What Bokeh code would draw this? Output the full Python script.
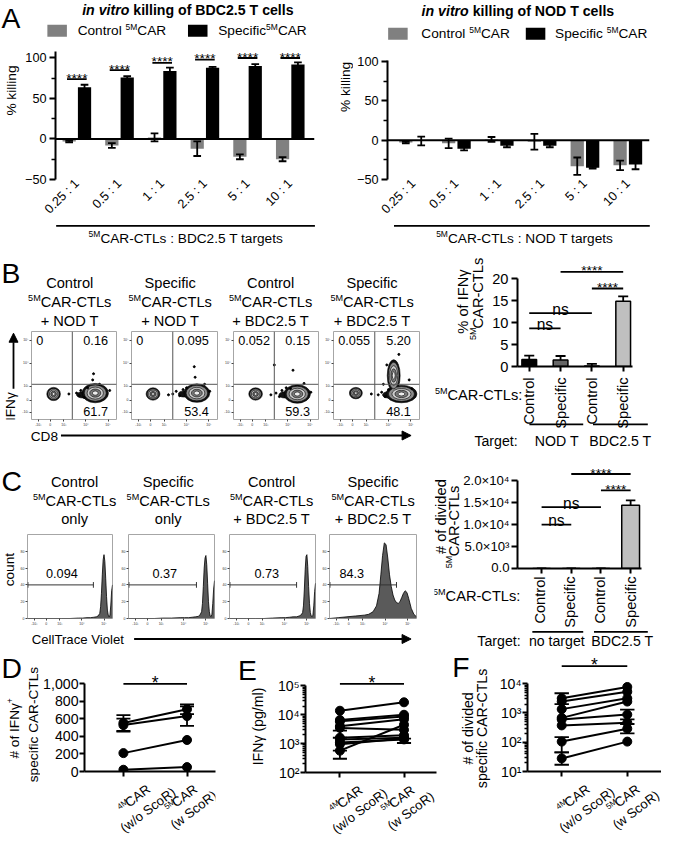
import math
from bokeh.plotting import figure
from bokeh.layouts import row, column
from bokeh.models import Range1d, FixedTicker, Label, Arrow, NormalHead, Span
from bokeh.embed import file_html
from bokeh.resources import INLINE
from bokeh.core.properties import value

S = 0.976
FONT = "Liberation Sans"
SUP = 0.62
LIFT = 0.30
GREY = "#808080"

# ---------------- data: panel A ----------------
ratios = ["0.25 : 1", "0.5 : 1", "1 : 1", "2.5 : 1", "5 : 1", "10 : 1"]
a_yticks = [-50, 0, 50, 100]
a_yminor = [-25, 25, 75]
bdc_ctrl = [-3, -8, 2, -12, -22, -25]
bdc_ctrl_err = [1, 3, 5, 9, 3, 2.5]
bdc_spec = [64, 76, 84, 88, 90, 92]
bdc_spec_err = [3, 1.5, 4, 1, 2.5, 2.5]
bdc_sig = [74, 85, 94, 98, 100, 100]
nod_ctrl = [-3, -4, 1, -2, -33, -32]
nod_ctrl_err = [1, 6, 3, 10, 11, 6]
nod_spec = [-1, -11, -7, -7, -35, -31]
nod_spec_err = [5.5, 2, 2, 2, 1, 6]

# ---------------- data: panel B ----------------
flowB_titles = [("Control", "+ NOD T"), ("Specific", "+ NOD T"),
                ("Control", "+ BDC2.5 T"), ("Specific", "+ BDC2.5 T")]
flowB_quadrants = [("0", "0.16", "61.7"), ("0", "0.095", "53.4"),
                   ("0.052", "0.15", "59.3"), ("0.055", "5.20", "48.1")]
flowB_pops = [
    [(26, 29, 16, 15), (75, 30, 31, 22)],
    [(25, 29, 16, 14), (76, 30, 30, 21)],
    [(26, 29, 16, 14), (75, 29, 31, 21)],
    [(26, 30, 15, 13), (79, 29, 36, 20), (70, 50, 15, 36)],
]
flowB_tails = [(60, 28, 14, 7), (61, 29, 13, 7), (60, 28, 13, 7), (63, 28, 12, 7)]
flowB_dots_x = [[53, 56, 58, 62, 66, 72, 92, 73, 44, 80],
                [48, 52, 56, 60, 64, 73, 74, 91, 43, 85],
                [50, 54, 57, 62, 70, 48, 91, 44, 83, 67],
                [52, 56, 60, 64, 91, 76, 62, 44, 88, 58]]
flowB_dots_y = [[30, 27, 33, 25, 36, 45, 33, 52, 29, 40],
                [29, 32, 27, 34, 36, 60, 48, 32, 28, 40],
                [30, 26, 33, 36, 56, 62, 31, 28, 41, 35],
                [28, 31, 26, 34, 35, 74, 62, 29, 45, 40]]
flow_ticks = [8, 22, 38, 64, 90]
flow_tick_labels = ["-10³", "0", "10³", "10⁴", "10⁵"]
flow_gate_x = 48
flow_gate_y = 40
contour_scale = [1.0, 0.84, 0.62, 0.42, 0.22]
contour_fill = ["#111111", "#8c8c8c", "#cccccc", "#7a7a7a", "#eeeeee"]

car_groups = ["Control", "Specific", "Control", "Specific"]
ifng_pct = [1.6, 1.5, 0.1, 14.9]
ifng_pct_hi = [2.5, 2.4, 0.6, 16.0]
ifng_colors = ["#000000", "#666666", "#999999", "#bfbfbf"]
ifng_yticks = [0, 5, 10, 15, 20]
ifng_ylabels = ["0", "5", "10", "15", "20"]
ifng_sig_x0 = [0, 0, 2, 1]
ifng_sig_x1 = [1, 2, 3, 3]
ifng_sig_y = [8.7, 12.2, 17.8, 21.6]
ifng_sig_t = ["ns", "ns", "****", "****"]

# ---------------- data: panel C ----------------
histC_titles = [("Control", "only"), ("Specific", "only"),
                ("Control", "+ BDC2.5 T"), ("Specific", "+ BDC2.5 T")]
histC_pct = ["0.094", "0.37", "0.73", "84.3"]
hist_x = [0, 10, 20, 30, 40, 50, 60, 65, 70, 74, 78, 81, 83, 85, 86, 87, 88, 89,
          90, 91, 92, 93, 94, 95, 96, 97, 98, 99, 100]
hist1_y = [0, 0, 0, 0, 0, 0, 0.5, 0.5, 1, 1, 1.5, 2, 3, 6, 14, 30, 52, 70,
           76, 68, 48, 26, 10, 4, 2, 4, 16, 33, 40]
hist2_y = [0, 0, 0, 0, 0.5, 0.5, 1, 1, 1, 1.5, 2, 2.5, 4, 8, 18, 38, 60, 72,
           75, 64, 42, 20, 8, 3, 2, 5, 18, 35, 45]
hist3_y = [0, 0, 0, 0, 0, 0.5, 1, 1, 1.5, 2, 2, 3, 4, 7, 15, 34, 58, 74,
           76, 62, 38, 18, 7, 3, 2, 4, 15, 32, 42]
hist4_x = [0, 10, 20, 30, 40, 45, 50, 54, 57, 59, 61, 63, 65, 67, 69, 71, 73, 75,
           77, 79, 81, 83, 85, 87, 89, 91, 94, 97, 100]
hist4_y = [0, 1, 2, 3, 4, 5, 8, 15, 30, 52, 75, 90, 88, 72, 52, 38, 28, 22,
           19, 18, 20, 25, 30, 33, 31, 24, 12, 5, 2]
hist_gate_end = [77.5, 79, 78, 77]
hist_gate_y = 40
hist_yticks = [0, 20, 40, 60, 80]
hist_ylabels = ["0", "20", "40", "60", "80"]

div_n = [0, 0, 0, 14444]
div_hi = [0, 0, 0, 15555]
div_colors = ["#000000", "#666666", "#999999", "#bfbfbf"]
div_yticks = [0, 5000, 10000, 15000, 20000]
div_ylabels = ["0.0", "5.0×10³", "1.0×10⁴", "1.5×10⁴", "2.0×10⁴"]
div_sig_x0 = [0, 0, 2, 1]
div_sig_x1 = [1, 2, 3, 3]
div_sig_y = [10000, 14000, 17800, 21560]
div_sig_t = ["ns", "ns", "****", "****"]

# ---------------- data: panels D-F ----------------
d_4m = [555, 530, 210, 20]
d_5m = [711, 633, 360, 50]
d_err_x = [0, 0, 1, 1]
d_err_lo = [465, 455, 655, 522]
d_err_hi = [645, 605, 767, 744]
d_yticks = [0, 200, 400, 600, 800, 1000]
d_ylabels = ["0", "200", "400", "600", "800", "1,000"]

e_4m = [13800, 6600, 5900, 4000, 3500, 1600, 1400, 1100, 960, 570]
e_5m = [27000, 10000, 8700, 7000, 3000, 1950, 1600, 1400, 1500, 4500]
e_err_x = [0, 0, 1]
e_err_lo = [300, 1600, 1050]
e_err_hi = [570, 2800, 1500]
e_yticks = [100, 1000, 10000, 100000]
e_ylabels = ["10²", "10³", "10⁴", "10⁵"]
e_yminor = [m * 10 ** k for k in (2, 3, 4) for m in range(2, 10)]

f_4m = [3160, 2450, 1350, 680, 600, 375, 105, 28]
f_5m = [7700, 5300, 3160, 2450, 880, 465, 290, 105]
f_err_x = [0, 0, 0, 1, 1]
f_err_lo = [2000, 45, 17, 600, 200]
f_err_hi = [4700, 150, 45, 1300, 420]
f_yticks = [10, 100, 1000, 10000]
f_ylabels = ["10¹", "10²", "10³", "10⁴"]
f_yminor = [m * 10 ** k for k in (1, 2, 3) for m in range(2, 10)]

# ---------------- helpers ----------------
def P(v):
    return int(round(v * S))

_REG = {' ': 278, '#': 556, '%': 889, '(': 333, ')': 333, '*': 389, '+': 584, ',': 278,
        '-': 333, '.': 278, '/': 278, ':': 278, 'A': 667, 'B': 667, 'C': 722, 'D': 722,
        'E': 667, 'F': 611, 'I': 278, 'L': 556, 'M': 833, 'N': 722, 'O': 778, 'R': 722,
        'S': 667, 'T': 611, 'V': 667, 'a': 556, 'b': 556, 'c': 500, 'd': 556, 'e': 556,
        'f': 278, 'g': 556, 'h': 556, 'i': 222, 'k': 500, 'l': 222, 'm': 833, 'n': 556,
        'o': 556, 'p': 556, 'r': 333, 's': 500, 't': 278, 'u': 556, 'v': 500, 'w': 722,
        'y': 500, 'γ': 500, '×': 584}
_BOLD = {' ': 278, '.': 278, 'B': 722, 'C': 722, 'D': 722, 'N': 722, 'O': 778, 'T': 611,
         'c': 556, 'e': 556, 'f': 333, 'g': 611, 'i': 278, 'k': 556, 'l': 278, 'n': 611,
         'o': 611, 'r': 389, 's': 556, 't': 333, 'v': 556}


def tw(s, size, bold=False):
    tab = _BOLD if bold else _REG
    return sum(tab.get(ch, 556) for ch in s) * size / 1000.0


class Fig:
    def __init__(self, canvas, frame, xr, yr, ylog=False, outline=None):
        self.fr = frame
        self.xr = xr
        self.yr = yr
        self.ylog = ylog
        cx0, cy0, cx1, cy1 = canvas
        fx0, fy0, fx1, fy1 = frame
        p = figure(width=P(cx1) - P(cx0), height=P(cy1) - P(cy0),
                   x_range=Range1d(*xr), y_range=Range1d(*yr),
                   y_axis_type=("log" if ylog else "linear"),
                   toolbar_location=None, output_backend="svg",
                   min_border_left=P(fx0) - P(cx0), min_border_right=P(cx1) - P(fx1),
                   min_border_top=P(fy0) - P(cy0), min_border_bottom=P(cy1) - P(fy1))
        p.outline_line_color = outline
        p.grid.visible = False
        p.xaxis.visible = False
        p.yaxis.visible = False
        p.background_fill_color = "white"
        p.border_fill_color = "white"
        self.p = p

    def D(self, rx, ry):
        fx0, fy0, fx1, fy1 = self.fr
        x = self.xr[0] + (rx - fx0) / (fx1 - fx0) * (self.xr[1] - self.xr[0])
        t = (fy1 - ry) / (fy1 - fy0)
        if self.ylog:
            a, b = math.log10(self.yr[0]), math.log10(self.yr[1])
            y = 10 ** (a + t * (b - a))
        else:
            y = self.yr[0] + t * (self.yr[1] - self.yr[0])
        return x, y

    def label(self, rx, ry, text, size, align="center", baseline="middle", angle=0.0,
              style="normal", color="black"):
        x, y = self.D(rx, ry)
        self.p.add_layout(Label(x=x, y=y, text=text, text_font=FONT,
                                text_font_size=f"{size * S:.2f}px", text_align=align,
                                text_baseline=baseline, angle=angle,
                                text_font_style=style, text_color=color))

    def rich(self, rx, ry, parts, size, align="center", angle_deg=0.0):
        a = math.radians(angle_deg)
        ux, uy = math.cos(a), -math.sin(a)
        px, py = -math.sin(a), -math.cos(a)
        ws = []
        for t, k in parts:
            sz = size * SUP if k == "s" else size
            ws.append(tw(t, sz, bold=k in ("b", "bi")))
        tot = sum(ws)
        off = {"left": 0.0, "center": -tot / 2, "right": -tot}[align]
        for (t, k), w in zip(parts, ws):
            sz = size * SUP if k == "s" else size
            lift = size * LIFT if k == "s" else 0.0
            style = {"n": "normal", "s": "normal", "b": "bold", "bi": "bold italic"}[k]
            lead = tw(t[:len(t) - len(t.lstrip())], sz, bold=k in ("b", "bi"))
            o = off + lead
            self.label(rx + ux * o + px * lift, ry + uy * o + py * lift, t.strip(), sz,
                       align="left", angle=a, style=style)
            off += w

    def seg(self, rx0, ry0, rx1, ry1, width=1.8, color="black", head=None):
        x0, y0 = self.D(rx0, ry0)
        x1, y1 = self.D(rx1, ry1)
        self.p.add_layout(Arrow(x_start=x0, y_start=y0, x_end=x1, y_end=y1,
                                line_width=width, line_color=color, end=head))


def TF(canvas):
    """A text/annotation canvas whose frame is the whole figure."""
    return Fig(canvas, canvas, (0, 1), (0, 1))


def head():
    return NormalHead(size=9, fill_color="black", line_color="black", line_width=1)


def style_axis(ax, size, tick_out=6, minor_out=4, width=2.0, standoff=3):
    ax.visible = True
    ax.axis_line_width = width
    ax.axis_line_color = "black"
    ax.major_tick_line_width = width
    ax.major_tick_line_color = "black"
    ax.major_tick_out = int(tick_out)
    ax.major_tick_in = 0
    ax.minor_tick_line_width = 1.5
    ax.minor_tick_line_color = "black"
    ax.minor_tick_out = int(minor_out)
    ax.minor_tick_in = 0
    ax.major_label_text_font = FONT
    ax.major_label_text_font_size = f"{size * S:.2f}px"
    ax.major_label_text_color = "black"
    ax.major_label_standoff = int(standoff)


def blank_labels(ax, ticks):
    ax.major_label_overrides = {t: "" for t in ticks}
    ax.major_label_text_font_size = "1px"
    ax.major_label_standoff = 0


def tiny_axes(p, xt, xl, yt, yl):
    for ax, t, l in ((p.xaxis[0], xt, xl), (p.yaxis[0], yt, yl)):
        ax.visible = True
        ax.ticker = FixedTicker(ticks=t, minor_ticks=[])
        ax.major_label_overrides = dict(zip(t, l))
        ax.axis_line_color = None
        ax.major_tick_line_color = "#444444"
        ax.major_tick_line_width = 1
        ax.major_tick_out = 2
        ax.major_tick_in = 0
        ax.minor_tick_line_color = None
        ax.major_label_text_font = FONT
        ax.major_label_text_font_size = "3.5px"
        ax.major_label_text_color = "#333333"
        ax.major_label_standoff = 1


def errbars(p, x, lo, hi, capw, lw=1.8):
    p.segment(x0=x, y0=lo, x1=x, y1=hi, line_color="black", line_width=lw)
    xl = [v - capw / 2 for v in x]
    xrr = [v + capw / 2 for v in x]
    p.segment(x0=xl, y0=hi, x1=xrr, y1=hi, line_color="black", line_width=lw)
    p.segment(x0=xl, y0=lo, x1=xrr, y1=lo, line_color="black", line_width=lw)


# ---------------- panel builders ----------------
def killing_panel(canvas, frame, xr, yr, ybound, ctrl, ctrl_e, spec, spec_e, sig):
    f = Fig(canvas, frame, xr, yr)
    p = f.p
    ya = p.yaxis[0]
    style_axis(ya, 13)
    ya.ticker = FixedTicker(ticks=a_yticks, minor_ticks=a_yminor)
    ya.bounds = ybound
    xa = p.xaxis[0]
    style_axis(xa, 13, tick_out=0, standoff=2)
    n = len(ratios)
    xa.ticker = FixedTicker(ticks=list(range(n)), minor_ticks=[])
    xa.major_label_overrides = {i: r for i, r in enumerate(ratios)}
    xa.major_label_orientation = math.pi / 4
    xa.axis_line_color = None
    xa.major_tick_line_color = None
    xa.minor_tick_line_color = None
    off, bw = 0.18, 0.31
    xc = [i - off for i in range(n)]
    xs = [i + off for i in range(n)]
    p.vbar(x=xc, bottom=0, top=ctrl, width=bw, fill_color=GREY, line_color=None)
    p.vbar(x=xs, bottom=0, top=spec, width=bw, fill_color="black", line_color=None)
    errbars(p, xc, [v - e for v, e in zip(ctrl, ctrl_e)], [v + e for v, e in zip(ctrl, ctrl_e)], 0.18)
    errbars(p, xs, [v - e for v, e in zip(spec, spec_e)], [v + e for v, e in zip(spec, spec_e)], 0.18)
    p.add_layout(Span(location=0, dimension="width", line_color="black", line_width=2))
    if sig is not None:
        p.segment(x0=[i - 0.23 for i in range(n)], y0=sig, x1=[i + 0.23 for i in range(n)], y1=sig,
                  line_color="black", line_width=1.8)
        ppu = (frame[3] - frame[1]) / (yr[1] - yr[0])
        p.text(x=list(range(n)), y=[s + 1.0 / ppu for s in sig], text=["****"] * n,
               text_font=value(FONT), text_font_size=f"{14 * S:.2f}px", text_align="center",
               text_baseline="alphabetic", text_color="black")
    return f


def flow_panel(canvas, frame, quads, pops, tail, dx, dy):
    f = Fig(canvas, frame, (0, 100), (0, 100), outline="#a6a6a6")
    p = f.p
    tiny_axes(p, flow_ticks, flow_tick_labels, flow_ticks, flow_tick_labels)
    p.add_layout(Span(location=flow_gate_x, dimension="height", line_color="#555555", line_width=1))
    p.add_layout(Span(location=flow_gate_y, dimension="width", line_color="#555555", line_width=1))
    p.ellipse(x=[tail[0]], y=[tail[1]], width=[tail[2]], height=[tail[3]],
              fill_color="#111111", line_color="black", line_width=0.6)
    for sc, col in zip(contour_scale, contour_fill):
        p.ellipse(x=[c[0] for c in pops], y=[c[1] for c in pops],
                  width=[c[2] * sc for c in pops], height=[c[3] * sc for c in pops],
                  fill_color=col, line_color="black", line_width=0.6)
    p.scatter(x=dx, y=dy, size=2, fill_color="black", line_color="black")
    fx0, fy0, fx1, fy1 = frame
    f.label(fx0 + 5, fy0 + 9, quads[0], 13, align="left")
    f.label(fx1 - 9, fy0 + 9, quads[1], 13, align="right")
    f.label(fx1 - 9, fy1 - 8, quads[2], 13, align="right")
    return f


def hist_panel(canvas, frame, hx, hy, gate_end, num, num_x):
    f = Fig(canvas, frame, (0, 100), (0, 100), outline="#a6a6a6")
    p = f.p
    tiny_axes(p, flow_ticks, flow_tick_labels, hist_yticks, hist_ylabels)
    p.varea(x=hx, y1=[0] * len(hx), y2=hy, fill_color="#5a5a5a")
    p.line(x=hx, y=hy, line_color="black", line_width=0.8)
    p.segment(x0=[0], y0=[hist_gate_y], x1=[gate_end], y1=[hist_gate_y],
              line_color="#333333", line_width=1)
    p.segment(x0=[0.5, gate_end], y0=[hist_gate_y - 3.4] * 2, x1=[0.5, gate_end],
              y1=[hist_gate_y + 3.4] * 2, line_color="#333333", line_width=1)
    f.label(num_x, 588, num, 13)
    return f


def bar_panel(canvas, frame, xr, yr, xbound_hi, yticks, ylabs, ybound, vals, hi, colors,
              bw, sx0, sx1, sy, st, ysize, ystand):
    f = Fig(canvas, frame, xr, yr)
    p = f.p
    ya = p.yaxis[0]
    style_axis(ya, ysize, standoff=ystand)
    ya.ticker = FixedTicker(ticks=yticks, minor_ticks=[])
    ya.major_label_overrides = dict(zip(yticks, ylabs))
    ya.bounds = ybound
    xa = p.xaxis[0]
    style_axis(xa, 15, tick_out=5, standoff=0)
    xa.ticker = FixedTicker(ticks=[0, 1, 2, 3], minor_ticks=[])
    blank_labels(xa, [0, 1, 2, 3])
    xa.bounds = (xr[0], xbound_hi)
    xs = [0, 1, 2, 3]
    p.vbar(x=xs, bottom=0, top=vals, width=bw, fill_color=colors, line_color="black", line_width=1.5)
    capw = 0.32
    p.segment(x0=xs, y0=vals, x1=xs, y1=hi, line_color="black", line_width=1.8)
    p.segment(x0=[x - capw / 2 for x in xs], y0=hi, x1=[x + capw / 2 for x in xs], y1=hi,
              line_color="black", line_width=1.8)
    p.segment(x0=sx0, y0=sy, x1=sx1, y1=sy, line_color="black", line_width=1.8)
    ppu = (frame[3] - frame[1]) / (yr[1] - yr[0])
    for kind, size, offpx in (("ns", 16, 4), ("****", 14, 1)):
        idx = [i for i, t in enumerate(st) if t == kind]
        p.text(x=[(sx0[i] + sx1[i]) / 2 for i in idx], y=[sy[i] + offpx / ppu for i in idx],
               text=[kind] * len(idx), text_font=value(FONT), text_font_size=f"{size * S:.2f}px",
               text_align="center", text_baseline="alphabetic", text_color="black")
    return f


def paired_panel(canvas, frame, xr, yr, ylog, a, b, ex, elo, ehi, yticks, ylabs, yminor,
                 ybound, sig_y):
    f = Fig(canvas, frame, xr, yr, ylog=ylog)
    p = f.p
    ya = p.yaxis[0]
    style_axis(ya, 14.5, tick_out=5, minor_out=3, standoff=1)
    ya.ticker = FixedTicker(ticks=yticks, minor_ticks=yminor)
    ya.major_label_overrides = dict(zip(yticks, ylabs))
    ya.bounds = ybound
    xa = p.xaxis[0]
    style_axis(xa, 10, tick_out=5)
    xa.ticker = FixedTicker(ticks=[0, 1], minor_ticks=[])
    blank_labels(xa, [0, 1])
    n = len(a)
    p.segment(x0=[0] * n, y0=a, x1=[1] * n, y1=b, line_color="black", line_width=2)
    errbars(p, ex, elo, ehi, 0.22)
    p.scatter(x=[0] * n + [1] * n, y=list(a) + list(b), size=9, fill_color="black",
              line_color="black")
    p.segment(x0=[0], y0=[sig_y], x1=[1], y1=[sig_y], line_color="black", line_width=1.8)
    fx0, fy0, fx1, fy1 = frame
    if ylog:
        ppd = (fy1 - fy0) / (math.log10(yr[1]) - math.log10(yr[0]))
        ys = sig_y * 10 ** (1.0 / ppd)
    else:
        ys = sig_y + 1.0 / ((fy1 - fy0) / (yr[1] - yr[0]))
    p.text(x=[0.5], y=[ys], text=["*"], text_font=value(FONT), text_font_size=f"{18 * S:.2f}px",
           text_align="center", text_baseline="alphabetic", text_color="black")
    return f


def cat_labels(f, ticks_px, axis_y, first, second):
    for T, l1, l2 in zip(ticks_px, first, second):
        c2x, c2y = T - 2, axis_y + 39.5
        f.rich(c2x, c2y, [(l2, "n")], 13.5, align="center", angle_deg=37)
        f.rich(c2x - 13.4, c2y - 11.2, l1, 13.5, align="center", angle_deg=37)


def titles3(f, cxs, y3, tops, bottoms):
    for cx, t, b in zip(cxs, tops, bottoms):
        f.label(cx, y3[0], t, 15)
        f.rich(cx, y3[1], [("5M", "s"), ("CAR-CTLs", "n")], 15)
        f.label(cx, y3[2], b, 15)


# ---------------- row 1: panel A ----------------
A1T = TF((0, 0, 340, 44))
A1T.label(1, 18, "A", 29, align="left")
A1T.rich(192, 10, [("in vitro", "bi"), (" killing of BDC2.5 T cells", "b")], 14.5)
A1T.seg(48, 31, 68, 31, width=12, color=GREY)
A1T.rich(79, 31, [("Control ", "n"), ("5M", "s"), ("CAR", "n")], 14, align="left")
A1T.seg(192, 31, 212, 31, width=12, color="black")
A1T.rich(223, 31, [("Specific", "n"), ("5M", "s"), ("CAR", "n")], 14, align="left")
A1L = TF((0, 44, 22, 229))
A1L.label(11, 108, "% killing", 14, angle=math.pi / 2)
A1P = killing_panel((22, 44, 340, 229), (55, 44, 322, 185), (-0.5, 5.568), (-50, 117.9), (-50, 108),
                    bdc_ctrl, bdc_ctrl_err, bdc_spec, bdc_spec_err, bdc_sig)
A1B = TF((0, 229, 340, 262))
A1B.seg(57, 230.5, 322, 230.5)
A1B.rich(190, 243, [("5M", "s"), ("CAR-CTLs : BDC2.5 T targets", "n")], 14)

A2T = TF((340, 0, 677, 44))
A2T.rich(530, 11, [("in vitro", "bi"), (" killing of NOD T cells", "b")], 14.5)
A2T.seg(397, 34, 417, 34, width=12, color=GREY)
A2T.rich(431, 34, [("Control ", "n"), ("5M", "s"), ("CAR", "n")], 14, align="left")
A2T.seg(538, 34, 558, 34, width=12, color="black")
A2T.rich(568, 34, [("Specific ", "n"), ("5M", "s"), ("CAR", "n")], 14, align="left")
A2L = TF((340, 44, 362, 229))
A2L.label(354, 103, "% killing", 14, angle=math.pi / 2)
A2P = killing_panel((362, 44, 677, 229), (393, 44, 665, 187.5), (-0.607, 5.506), (-50, 122.9), (-50, 101),
                    nod_ctrl, nod_ctrl_err, nod_spec, nod_spec_err, None)
A2B = TF((340, 229, 677, 262))
A2B.seg(403, 230.5, 665, 230.5)
A2B.rich(537, 243, [("5M", "s"), ("CAR-CTLs : NOD T targets", "n")], 14)

colA1 = column(A1T.p, row(A1L.p, A1P.p, spacing=0), A1B.p, spacing=0)
colA2 = column(A2T.p, row(A2L.p, A2P.p, spacing=0), A2B.p, spacing=0)

# ---------------- row 2: panel B ----------------
BT = TF((0, 262, 445, 337))
BT.label(1, 279, "B", 29, align="left")
titles3(BT, [71, 174, 277, 381], (289, 309, 328),
        [t[0] for t in flowB_titles], [t[1] for t in flowB_titles])
BL = TF((0, 337, 19, 440))
BL.label(10, 425, "IFNγ", 14, angle=math.pi / 2)
BL.seg(13, 404, 13, 339, width=1.8, head=head())
B_canv = [(19, 337, 122, 440), (122, 337, 226, 440), (226, 337, 329, 440), (329, 337, 445, 440)]
B_frames = [(29, 339, 119, 429), (132, 339, 222, 429), (236, 339, 326, 429), (339, 339, 429, 429)]
Bf = [flow_panel(B_canv[i], B_frames[i], flowB_quadrants[i], flowB_pops[i], flowB_tails[i],
                 flowB_dots_x[i], flowB_dots_y[i]) for i in range(4)]
BS = TF((0, 440, 445, 466))
BS.label(31, 447, "CD8", 14, align="left")
BS.seg(62, 446, 421, 446, width=1.8, head=head())
colBl = column(BT.p, row(BL.p, *[f.p for f in Bf], spacing=0), BS.p, spacing=0)

BbL = TF((445, 262, 500, 384))
BbL.label(474, 312, "% of IFNγ", 15, angle=math.pi / 2)
BbL.rich(489, 312, [("5M", "s"), ("CAR-CTLs", "n")], 15, angle_deg=90)
Bb = bar_panel((500, 262, 677, 384), (530, 262, 665, 375), (-0.375, 3.84), (0, 25.1), 3.31,
               ifng_yticks, ifng_ylabels, (0, 20), ifng_pct, ifng_pct_hi, ifng_colors, 0.47,
               ifng_sig_x0, ifng_sig_x1, ifng_sig_y, ifng_sig_t, 15, 3)
BbB = TF((445, 384, 677, 466))
for i, g in enumerate(car_groups):
    BbB.label(542 + 32 * i, 386, g, 15, align="right", angle=math.pi / 2)
BbB.rich(535, 404, [("5M", "s"), ("CAR-CTLs:", "n")], 15, align="right")
BbB.seg(542, 434, 597, 434)
BbB.seg(607, 434, 663, 434)
BbB.label(530, 451, "Target:", 14.5, align="right")
BbB.label(570, 451, "NOD T", 14.5)
BbB.label(635, 451, "BDC2.5 T", 14.5)
colBr = column(row(BbL.p, Bb.p, spacing=0), BbB.p, spacing=0)

# ---------------- row 3: panel C ----------------
CT = TF((0, 466, 445, 545))
CT.label(1, 492, "C", 29, align="left")
titles3(CT, [76, 172, 278, 382], (493, 513, 531),
        [t[0] for t in histC_titles], [t[1] for t in histC_titles])
CL = TF((0, 545, 17, 643))
CL.label(9, 586, "count", 14, angle=math.pi / 2)
C_canv = [(17, 545, 121, 643), (121, 545, 224, 643), (224, 545, 327, 643), (327, 545, 445, 643)]
C_frames = [(26, 547, 115, 635), (129, 547, 219, 635), (233, 547, 323, 635), (336, 547, 426, 635)]
C_num_x = [62, 167, 272, 359]
C_hx = [hist_x, hist_x, hist_x, hist4_x]
C_hy = [hist1_y, hist2_y, hist3_y, hist4_y]
Cf = [hist_panel(C_canv[i], C_frames[i], C_hx[i], C_hy[i], hist_gate_end[i], histC_pct[i], C_num_x[i])
      for i in range(4)]
CS = TF((0, 643, 445, 665))
CS.label(32, 655, "CellTrace Violet", 13.5, align="left")
CS.seg(137, 654, 421, 654, width=1.8, head=head())
colCl = column(CT.p, row(CL.p, *[f.p for f in Cf], spacing=0), CS.p, spacing=0)

CbL = TF((445, 466, 471, 588))
CbL.label(451, 532, "# of divided", 15, angle=math.pi / 2)
CbL.rich(464, 545, [("5M", "s"), ("CAR-CTLs", "n")], 15, angle_deg=90)
Cb = bar_panel((471, 466, 677, 588), (528, 466, 665, 582), (-0.812, 3.636), (0, 25778), 3.377,
               div_yticks, div_ylabels, (0, 20000), div_n, div_hi, div_colors, 0.6,
               div_sig_x0, div_sig_x1, div_sig_y, div_sig_t, 13.5, 2)
CbB = TF((445, 588, 677, 665))
for i, g in enumerate(car_groups):
    CbB.label(553 + 30.8 * i, 590, g, 15, align="right", angle=math.pi / 2)
CbB.rich(533, 610, [("5M", "s"), ("CAR-CTLs:", "n")], 15, align="right")
CbB.seg(545, 647, 597, 647)
CbB.seg(608, 647, 663, 647)
CbB.label(533, 656, "Target:", 14.5, align="right")
CbB.label(570, 656, "no target", 14.5)
CbB.label(637, 656, "BDC2.5 T", 14.5)
colCr = column(row(CbL.p, Cb.p, spacing=0), CbB.p, spacing=0)

# ---------------- row 4: panels D, E, F ----------------
cat1 = [[("4M", "s"), ("CAR", "n")], [("5M", "s"), ("CAR", "n")]]
cat2 = ["(w/o ScoR)", "(w ScoR)"]

DL = TF((0, 665, 41, 861))
DL.label(1, 684, "D", 29, align="left")
DL.rich(14, 746, [("# of IFNγ", "n"), ("+", "s")], 14, angle_deg=90)
DL.label(34, 742, "specific CAR-CTLs", 14, angle=math.pi / 2)
Dp = paired_panel((41, 665, 228, 798), (82, 680, 220, 790), (-0.612, 1.448), (0, 1222.2), False,
                  d_4m, d_5m, d_err_x, d_err_lo, d_err_hi, d_yticks, d_ylabels, [], (0, 1000), 1000)
DB = TF((41, 798, 228, 861))
cat_labels(DB, [123, 190], 790, cat1, cat2)
colD = row(DL.p, column(Dp.p, DB.p, spacing=0), spacing=0)

EL = TF((228, 665, 281, 861))
EL.label(243, 686, "E", 29, align="left")
EL.label(264, 744, "IFNγ (pg/ml)", 14.5, angle=math.pi / 2)
Ep = paired_panel((281, 665, 450, 799), (310, 680, 447, 791), (-0.537, 1.507), (100, 10 ** 5.741), True,
                  e_4m, e_5m, e_err_x, e_err_lo, e_err_hi, e_yticks, e_ylabels, e_yminor,
                  (100, 100000), 10 ** 5.07)
EB = TF((281, 799, 450, 861))
cat_labels(EB, [346, 413], 791, cat1, cat2)
colE = row(EL.p, column(Ep.p, EB.p, spacing=0), spacing=0)

FL = TF((450, 665, 503, 861))
FL.label(463, 683, "F", 29, align="left")
FL.label(479, 746, "# of divided", 14.5, angle=math.pi / 2)
FL.label(493, 746, "specific CAR-CTLs", 14.5, angle=math.pi / 2)
Fp = paired_panel((503, 665, 677, 798), (540, 665, 677, 790), (-0.522, 1.522), (10, 10 ** 5.167), True,
                  f_4m, f_5m, f_err_x, f_err_lo, f_err_hi, f_yticks, f_ylabels, f_yminor,
                  (10, 10000), 10 ** 4.6)
FB = TF((503, 798, 677, 861))
cat_labels(FB, [575, 640], 790, cat1, cat2)
colF = row(FL.p, column(Fp.p, FB.p, spacing=0), spacing=0)

layout = column(
    row(colA1, colA2, spacing=0),
    row(colBl, colBr, spacing=0),
    row(colCl, colCr, spacing=0),
    row(colD, colE, colF, spacing=0),
    spacing=0)

open("out.html", "w").write(file_html(layout, INLINE))
